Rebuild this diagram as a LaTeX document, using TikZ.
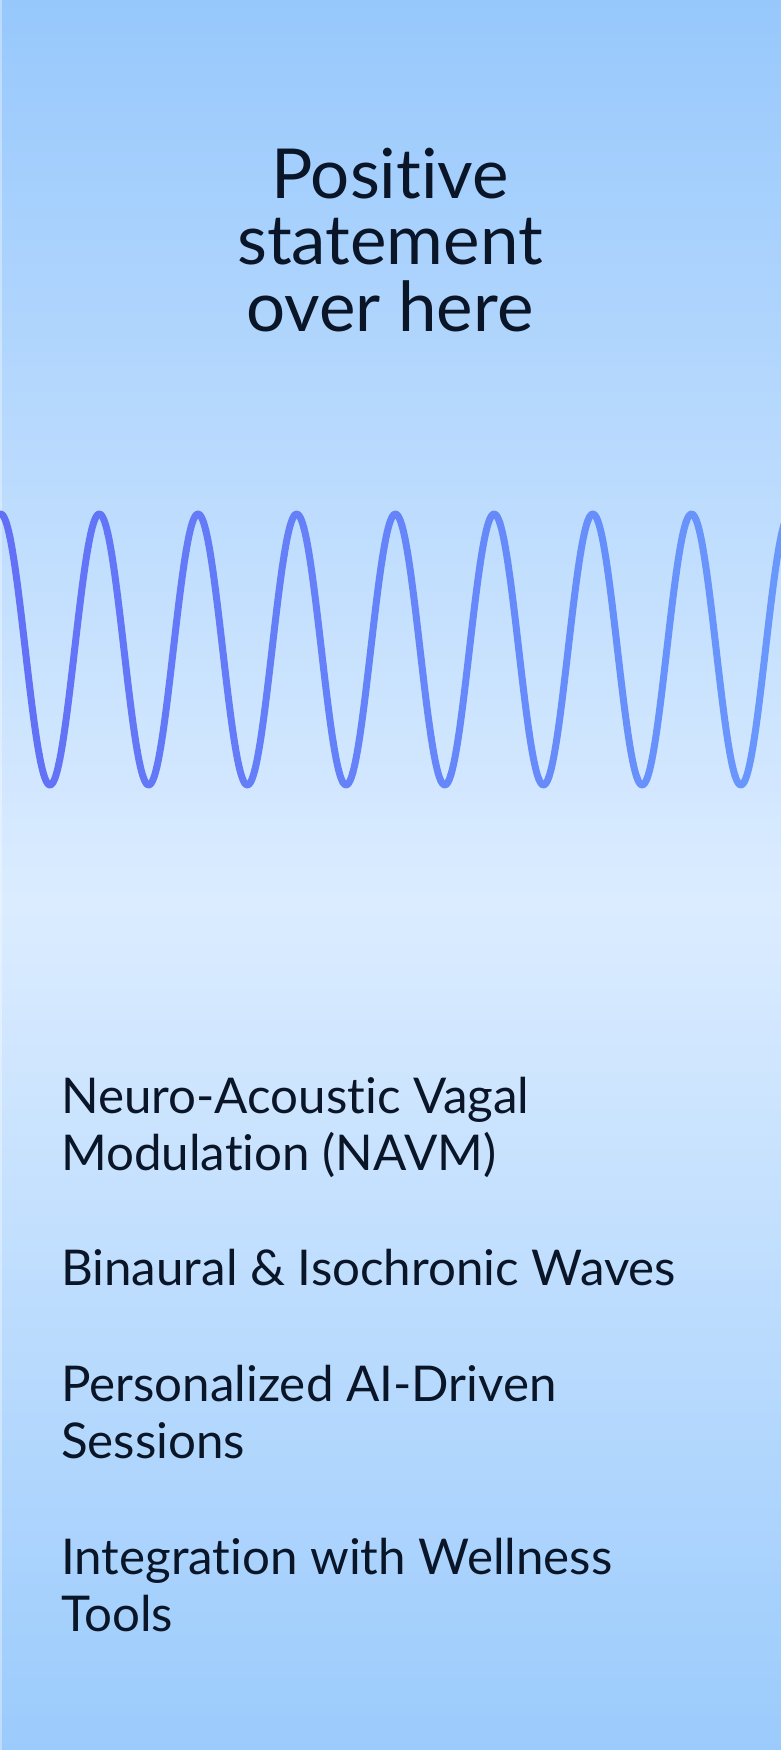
\documentclass[tikz,border=0pt]{standalone}
\usepackage{fontspec}
\setmainfont{Lato}[Ligatures=NoCommon]
\usepackage{tikz}
\usetikzlibrary{positioning}

\definecolor{bgTop}{RGB}{151,200,252}
\definecolor{bgMid}{RGB}{219,236,255}
\definecolor{bgBot}{RGB}{155,203,252}
\definecolor{waveL}{RGB}{98,112,246}
\definecolor{waveR}{RGB}{105,152,252}
\definecolor{ink}{RGB}{10,22,40}

\tikzset{
    wave/.style={line width=7pt, line cap=round, line join=round},
    headline/.style={text=ink, align=center, inner sep=0pt, font=\fontsize{69}{66.4}\selectfont},
    feature/.style={text=ink, align=left, inner sep=0pt, font=\fontsize{49.3}{56.5}\selectfont}
}

\begin{document}
\begin{tikzpicture}[x=1pt, y=-1pt]
    \useasboundingbox (0,0) rectangle (781,1750);

    % Draw the background
    \shade[top color=bgTop, bottom color=bgMid] (0,0) rectangle (781,904);
    \shade[top color=bgMid, bottom color=bgBot] (0,904) rectangle (781,1750);
    \fill[white, opacity=0.35] (0,0) rectangle (1.5,1750);

    % Headline (base anchor sits on the last line)
    \node[headline, anchor=base] (title) at (390,331) {Positive\\statement\\over here};

    % Draw the wave, colour shifting from left to right
    \foreach \i in {0,...,79} {
        \pgfmathsetmacro{\p}{100*\i/79}
        \draw[wave, color=waveR!\p!waveL] plot[domain={\i*9.8}:{(\i+1)*9.8}, samples=8, smooth]
            (\x, {649.5-135.5*cos(3.64742*(\x-0.6))});
    }

    % Place the features (base anchor sits on the last line)
    \foreach \y/\name/\label in {1170/navm/{Neuro-Acoustic Vagal\\Modulation (NAVM)},
                                 1285/waves/{Binaural \& Isochronic Waves},
                                 1458/sessions/{Personalized AI-Driven\\Sessions},
                                 1631/tools/{Integration with Wellness\\Tools}} {
        \node[feature, anchor=base west] (\name) at (61,\y) {\label};
    }
\end{tikzpicture}
\end{document}
